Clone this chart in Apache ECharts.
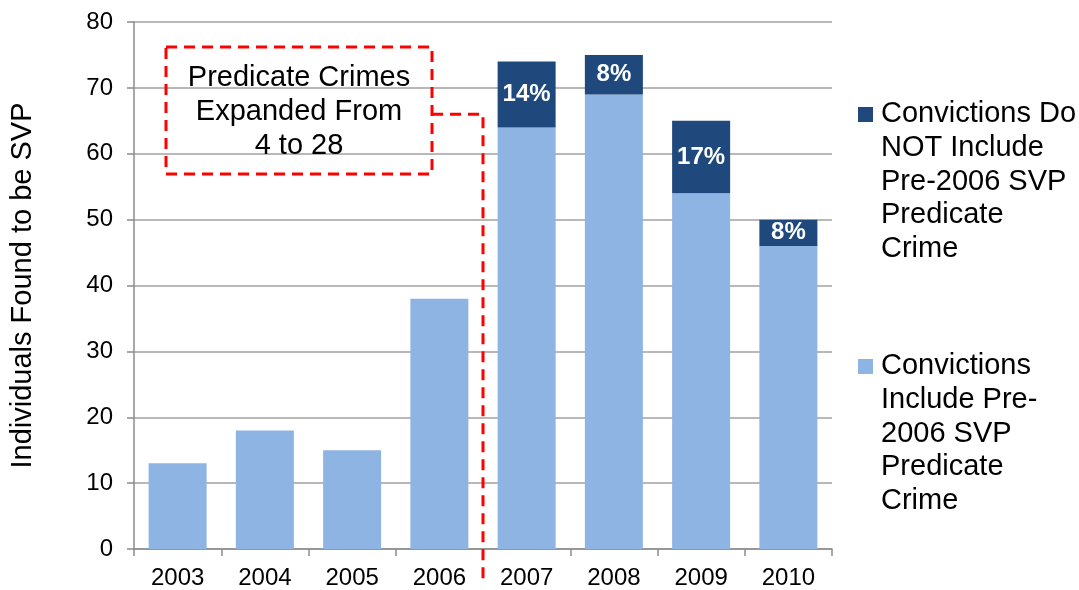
<!DOCTYPE html>
<html>
<head>
<meta charset="utf-8">
<script src="https://cdn.jsdelivr.net/npm/echarts@6/dist/echarts.min.js"></script>
<style>
  html, body { margin: 0; padding: 0; background: #fff; }
  #chart { width: 1079px; height: 590px; }
</style>
</head>
<body>
<div id="chart"></div>
<script>
// Years on the category axis
const years = ['2003', '2004', '2005', '2006', '2007', '2008', '2009', '2010'];
// Individuals whose convictions include a pre-2006 SVP predicate crime
const includePre2006 = [13, 18, 15, 38, 64, 69, 54, 46];
// Individuals whose convictions do NOT include a pre-2006 predicate crime
const notIncludePre2006 = [null, null, null, null, 10, 6, 11, 4];
// Value-axis ticks
const yMin = 0, yMax = 80, yStep = 10;

const seriesNames = [
  'Convictions Do\nNOT Include\nPre-2006 SVP\nPredicate\nCrime',
  'Convictions\nInclude Pre-\n2006 SVP\nPredicate\nCrime'
];
const colors = { dark: '#1F497D', light: '#8EB4E3' };
const FONT = '"Liberation Sans", Arial, sans-serif';

const chart = echarts.init(document.getElementById('chart'));

chart.setOption({
  animation: false,
  textStyle: { fontFamily: FONT },
  grid: { left: 134, right: 247, top: 22, bottom: 41 },
  xAxis: {
    type: 'category',
    data: years,
    axisLine: { lineStyle: { color: '#8c8c8c', width: 1.5 } },
    axisTick: { show: true, length: 7, lineStyle: { color: '#8c8c8c', width: 1.5 } },
    axisLabel: { color: '#000', fontSize: 24, margin: 17, fontFamily: FONT }
  },
  yAxis: {
    type: 'value',
    min: yMin, max: yMax, interval: yStep,
    name: 'Individuals Found to be SVP',
    nameLocation: 'middle',
    nameGap: 97,
    nameTextStyle: { fontSize: 29, color: '#000', fontFamily: FONT },
    axisLine: { show: true, lineStyle: { color: '#8c8c8c', width: 1.5 } },
    axisTick: { show: true, length: 7, lineStyle: { color: '#8c8c8c', width: 1.5 } },
    axisLabel: { color: '#000', fontSize: 24, margin: 21, fontFamily: FONT },
    splitLine: { lineStyle: { color: '#a0a0a0', width: 1.5 } }
  },
  series: [
    {
      name: seriesNames[1],
      type: 'bar',
      stack: 'total',
      data: includePre2006,
      barWidth: '66.5%',
      itemStyle: { color: colors.light }
    },
    {
      name: seriesNames[0],
      type: 'bar',
      stack: 'total',
      data: notIncludePre2006,
      barWidth: '66.5%',
      itemStyle: { color: colors.dark },
      label: {
        show: true,
        position: 'inside',
        color: '#fff',
        fontWeight: 'bold',
        fontSize: 24,
        fontFamily: FONT,
        formatter: (p) => {
          const total = includePre2006[p.dataIndex] + p.value;
          return Math.round(p.value / total * 100) + '%';
        }
      }
    }
  ]
});

// Annotation box, connector to the 2006/2007 boundary, and the legend
function drawOverlay() {
  const xLeft = chart.convertToPixel({ xAxisIndex: 0 }, years[3]);
  const xRight = chart.convertToPixel({ xAxisIndex: 0 }, years[4]);
  const xBoundary = (xLeft + xRight) / 2;
  const y0 = chart.convertToPixel({ yAxisIndex: 0 }, 0);
  const yConn = chart.convertToPixel({ yAxisIndex: 0 }, 66);

  const dash = { stroke: '#ff0000', lineWidth: 3, lineDash: [11, 7], fill: null };
  const box = { x: 166, y: 47, w: 266, h: 127 };

  const elements = [
    {
      type: 'rect',
      shape: { x: box.x, y: box.y, width: box.w, height: box.h },
      style: Object.assign({}, dash),
      z: 10
    },
    {
      type: 'text',
      x: box.x + box.w / 2,
      y: box.y + box.h / 2 + 1,
      style: {
        text: 'Predicate Crimes\nExpanded From\n4 to 28',
        fill: '#000',
        font: '29px ' + FONT,
        align: 'center',
        verticalAlign: 'middle',
        lineHeight: 34
      },
      z: 11
    },
    {
      type: 'polyline',
      shape: { points: [[box.x + box.w, yConn], [xBoundary, yConn], [xBoundary, y0 + 30]] },
      style: Object.assign({}, dash),
      z: 10
    }
  ];

  // Legend: swatch next to the first line of each multi-line name
  const legendItems = [
    { name: seriesNames[0], color: colors.dark, top: 114 },
    { name: seriesNames[1], color: colors.light, top: 366 }
  ];
  legendItems.forEach((it) => {
    elements.push({
      type: 'rect',
      shape: { x: 858, y: it.top - 7, width: 15, height: 15 },
      style: { fill: it.color }
    });
    elements.push({
      type: 'text',
      x: 881,
      y: it.top - 17,
      style: {
        text: it.name,
        fill: '#000',
        font: '29px ' + FONT,
        align: 'left',
        verticalAlign: 'top',
        lineHeight: 33.8
      }
    });
  });

  chart.setOption({ graphic: elements });
}
drawOverlay();
</script>
</body>
</html>
